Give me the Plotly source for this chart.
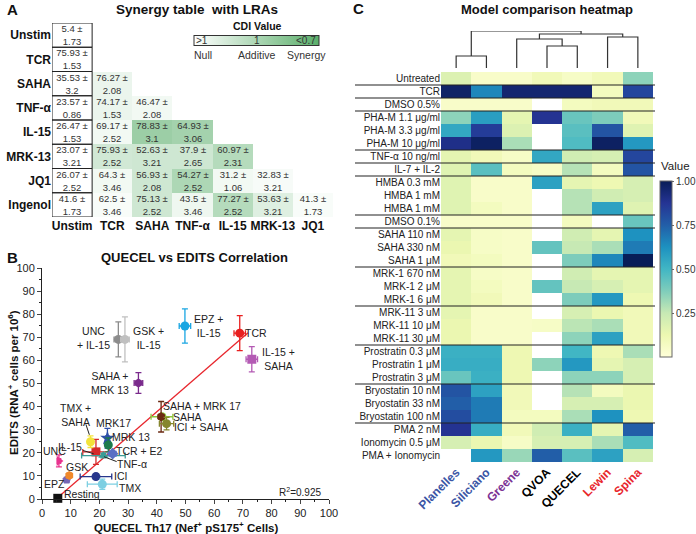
import plotly.graph_objects as go

W, H = 696, 534
def px(x): return x / W
def py(y): return 1 - y / H

FONT = "Arial, Liberation Sans, sans-serif"

# ---------------- Panel A data ----------------
lra_rows = ["Unstim", "TCR", "SAHA", "TNF-α", "IL-15", "MRK-13", "JQ1", "Ingenol"]
lra_cols = ["Unstim", "TCR", "SAHA", "TNF-α", "IL-15", "MRK-13", "JQ1"]
mean_pct = [
    [5.4],
    [75.93],
    [35.53, 76.27],
    [23.57, 74.17, 46.47],
    [26.47, 69.17, 78.83, 64.93],
    [23.07, 75.93, 52.63, 37.9, 60.97],
    [26.07, 64.3, 56.93, 54.27, 31.2, 32.83],
    [41.6, 62.5, 75.13, 43.5, 77.27, 53.63, 41.3],
]
sd_pct = [
    [1.73],
    [1.53],
    [3.2, 2.08],
    [0.86, 1.53, 2.08],
    [1.53, 2.52, 3.1, 3.06],
    [3.21, 2.52, 3.21, 2.65, 2.31],
    [2.52, 3.46, 2.08, 2.52, 1.06, 3.21],
    [1.73, 3.46, 2.52, 3.46, 2.52, 3.21, 1.73],
]
synergy_shade = [
    [0],
    [0],
    [0, 0.12],
    [0, 0.12, 0.08],
    [0, 0.08, 0.6, 0.55],
    [0, 0.28, 0.3, 0.3, 0.45],
    [0, 0.08, 0.3, 0.5, 0.08, 0.05],
    [0, 0.04, 0.3, 0.1, 0.45, 0.2, 0.04],
]

# ---------------- Panel B data ----------------
lra_names = ["Resting", "EPZ", "GSK", "UNC", "IL-15", "TMX + SAHA", "MRK17", "MRK 13",
             "TNF-α", "TCR + E2", "ICI", "TMX", "SAHA", "SAHA + MRK 17", "ICI + SAHA",
             "SAHA + MRK 13", "UNC + IL-15", "GSK + IL-15", "EPZ + IL-15", "TCR", "IL-15 + SAHA"]
quecel_x = [5.5, 8.6, 9.5, 5.9, 18.8, 16.9, 22.8, 23.1, 21.4, 24.6, 18.8, 21.0, 41.8, 41.5, 43.4,
            33.6, 26.6, 28.9, 49.8, 68.9, 73.1]
edits_y = [0.3, 8.3, 10.2, 16.5, 20.4, 24.8, 26.3, 23.4, 18.8, 19.6, 9.7, 6.4, 35.6, 35.6, 32.6,
           50.2, 69.1, 69.1, 74.9, 71.8, 60.5]
quecel_err = [0.6, 0.6, 0.6, 0.6, 4.6, 0.8, 0.6, 0.6, 7.6, 1.2, 5.5, 5.2, 3.8, 0.8, 2.5,
              1.5, 1.5, 1.5, 2.0, 2.0, 2.0]
edits_err = [0.4, 1.0, 1.0, 2.6, 5.4, 2.5, 4.3, 3.0, 1.0, 1.0, 1.2, 2.2, 0.5, 6.6, 2.7,
             4.5, 7.6, 9.7, 7.4, 7.6, 5.5]
fit_x = [4.9, 71.8]
fit_y = [0.0, 72.0]
r_squared = 0.925

# ---------------- Panel C data ----------------
model_names = ["Planelles", "Siliciano", "Greene", "QVOA", "QUECEL", "Lewin", "Spina"]
condition_names = ["Untreated", "TCR", "DMSO 0.5%", "PHA-M 1.1 μg/ml", "PHA-M 3.3 μg/ml",
                   "PHA-M 10 μg/ml", "TNF-α 10 ng/ml", "IL-7 + IL-2", "HMBA 0.3 mM", "HMBA 1 mM",
                   "HMBA 1 mM", "DMSO 0.1%", "SAHA 110 nM", "SAHA 330 nM", "SAHA 1 μM",
                   "MRK-1 670 nM", "MRK-1 2 μM", "MRK-1 6 μM", "MRK-11 3 uM", "MRK-11 10 μM",
                   "MRK-11 30 μM", "Prostratin 0.3 μM", "Prostratin 1 μM", "Prostratin 3 μM",
                   "Bryostatin 10 nM", "Bryostatin 33 nM", "Bryostatin 100 nM", "PMA 2 nM",
                   "Ionomycin 0.5 μM", "PMA + Ionomycin"]
N = None
model_values = [
    [0.18, 0.05, 0.05, 0.10, 0.06, 0.10, 0.35],
    [0.97, 0.65, 0.95, 0.95, 0.95, 0.08, 0.82],
    [0.05, 0.05, 0.05, N, 0.08, 0.10, 0.10],
    [0.35, 0.58, 0.15, 0.88, 0.42, 0.38, 0.10],
    [0.55, 0.85, 0.18, N, 0.45, 0.78, 0.17],
    [0.90, 0.98, 0.30, N, 0.47, 0.98, 0.60],
    [0.15, 0.10, 0.06, 0.55, 0.22, 0.20, 0.82],
    [0.17, 0.45, 0.08, 0.06, 0.28, 0.08, 0.78],
    [0.17, 0.05, 0.05, 0.57, 0.15, 0.12, 0.20],
    [0.17, 0.05, 0.05, N, 0.28, 0.22, 0.20],
    [0.17, 0.08, 0.05, N, 0.28, 0.57, 0.17],
    [0.05, 0.05, 0.05, N, 0.08, N, 0.42],
    [0.15, 0.06, 0.05, N, 0.22, 0.15, 0.62],
    [0.13, 0.06, 0.05, 0.43, 0.25, 0.30, 0.68],
    [0.10, 0.08, 0.05, N, 0.38, 0.65, 1.00],
    [0.15, 0.06, 0.05, N, 0.22, 0.15, 0.15],
    [0.15, 0.08, 0.05, 0.43, 0.25, 0.20, 0.15],
    [0.15, 0.10, 0.05, N, 0.38, 0.60, 0.12],
    [0.15, 0.05, 0.05, N, 0.20, 0.13, 0.10],
    [0.13, 0.05, 0.05, 0.06, 0.27, 0.30, 0.10],
    [0.13, 0.05, 0.05, N, 0.35, 0.57, 0.10],
    [0.52, 0.52, 0.12, N, 0.50, 0.12, 0.30],
    [0.53, 0.53, 0.12, 0.35, 0.60, 0.15, 0.20],
    [0.42, 0.52, 0.12, N, 0.35, 0.35, 0.20],
    [0.78, 0.57, 0.10, N, 0.28, 0.08, 0.13],
    [0.75, 0.68, 0.10, N, 0.20, 0.20, 0.13],
    [0.80, 0.68, 0.08, 0.08, 0.30, 0.62, 0.12],
    [0.88, 0.53, 0.10, 0.22, 0.52, 0.15, 0.75],
    [0.20, 0.13, 0.06, 0.20, 0.20, 0.30, 0.47],
    [N, 0.60, 0.33, 0.75, 0.45, 0.57, 0.20],
]
group_ends = [0, 1, 2, 5, 6, 7, 10, 11, 14, 17, 20, 23, 26]
# linkage: [left id, right id, height]; leaves 0..6, new clusters 7..
dendro_links = [[0, 1, 12], [3, 4, 22], [5, 6, 31], [2, 8, 29], [10, 9, 34], [7, 11, 37]]

# ---------------- styles ----------------
pt_colors = ["#111111", "#7667b5", "#f0892b", "#e8338f", "#d42a2a", "#f3e33b", "#2d4fa8", "#1e7a4c",
             "#3a9c96", "#5b6fc4", "#27368c", "#7dcfe2", "#8dc63f", "#6b2a12", "#86862e",
             "#7a2a8c", "#8c8c8c", "#c0c0c0", "#1aa6e2", "#e82020", "#b45ab4"]
pt_symbols = ["square", "pentagon", "hexagon", "triangle-right", "square", "circle", "star", "circle",
              "triangle-up", "diamond", "circle", "circle", "circle", "hexagon", "circle",
              "hexagon", "circle", "circle", "circle", "circle", "square"]
label_pos = [(13.8, 2.2), (4.2, 6.4), (12.2, 13.9), (4.5, 20.8), (9.8, 22.6), (11.8, 36.4),
             (24.8, 33.0), (31.0, 26.8), (31.5, 15.2), (34.1, 20.8), (27.4, 10.0), (30.7, 4.8),
             (50.6, 35.5), (55.9, 40.3), (55.4, 31.1), (23.7, 50.2), (17.8, 69.7), (37.0, 69.7),
             (57.9, 74.9), (74.5, 71.9), (82.3, 60.6)]
label_text = ["Resting", "EPZ", "GSK", "UNC", "IL-15", "TMX +<br>SAHA", "MRK17", "MRK 13",
              "TNF-α", "TCR + E2", "ICI", "TMX", "SAHA", "SAHA + MRK 17", "ICI + SAHA",
              "SAHA +<br>MRK 13", "UNC<br>+ IL-15", "GSK +<br>IL-15", "EPZ +<br>IL-15", "TCR",
              "IL-15 +<br>SAHA"]
leaders = [((15.3, 32.3), (16.5, 27.8)), ((14.3, 21.0), (18.0, 19.6)), ((26.0, 16.2), (21.6, 18.3))]
model_colors = ["#3b55a5", "#3b55a5", "#7b3294", "#000000", "#000000", "#e8262d", "#e8262d"]
ylgnbu = [[0.0, "#ffffd9"], [0.125, "#edf8b1"], [0.25, "#c7e9b4"], [0.375, "#7fcdbb"],
          [0.5, "#41b6c4"], [0.625, "#1d91c0"], [0.75, "#225ea8"], [0.875, "#253494"], [1.0, "#081d58"]]

fig = go.Figure()
shapes = []
annotations = []

def note(text, x, y, size, color="#111", xanchor="center", angle=0):
    return dict(text=text, x=px(x), y=py(y), xref="paper", yref="paper", showarrow=False,
                xanchor=xanchor, yanchor="middle", textangle=angle,
                font=dict(size=size, color=color))

# ---------------- Panel A ----------------
nr, nc = len(lra_rows), len(lra_cols)
zA = [[None] * nc for _ in range(nr)]
tA = [[""] * nc for _ in range(nr)]
for i in range(nr):
    for j, (m, s, g) in enumerate(zip(mean_pct[i], sd_pct[i], synergy_shade[i])):
        zA[i][j] = g
        tA[i][j] = f"{m:g} ±<br>{s:g}"
fig.add_trace(go.Heatmap(
    z=zA, x=list(range(nc)), y=list(range(nr)), text=tA, texttemplate="%{text}",
    textfont=dict(size=9.5, color="#333", family=FONT),
    colorscale=[[0, "#ffffff"], [1, "#5aae6a"]], zmin=0, zmax=1,
    xaxis="x", yaxis="y", hoverinfo="skip",
    colorbar=dict(orientation="h", x=px(256.5), xanchor="center", y=py(41), yanchor="middle",
                  len=125 / W, lenmode="fraction", thickness=10, thicknessmode="pixels",
                  xpad=0, ypad=0, outlinewidth=1, outlinecolor="#333",
                  showticklabels=False, ticks=""),
))
for i in range(nr):
    shapes.append(dict(type="rect", xref="x", yref="y", x0=-0.5, x1=0.5, y0=i - 0.5, y1=i + 0.5,
                       line=dict(color="#222", width=1)))

annotations += [
    note("<b>A</b>", 5, 9, 15, xanchor="left"),
    note("<b>Synergy table  with LRAs</b>", 197, 9, 13.5),
    note("<b>CDI Value</b>", 257, 26, 10.5),
    note(">1", 202, 41, 10, "#333"),
    note("1", 257, 41, 10, "#333"),
    note("<0.7", 306, 41, 10, "#333"),
    note("Null", 203, 55, 10.5, "#333"),
    note("Additive", 257, 55, 10.5, "#333"),
    note("Synergy", 306, 55, 10.5, "#333"),
]

# ---------------- Panel B ----------------
fig.add_trace(go.Scatter(x=fit_x, y=fit_y, mode="lines", line=dict(color="#e8262d", width=1.3),
                         xaxis="x2", yaxis="y2", hoverinfo="skip"))
for k in range(len(lra_names)):
    c = pt_colors[k]
    fig.add_trace(go.Scatter(
        x=[quecel_x[k]], y=[edits_y[k]], mode="markers", name=lra_names[k],
        marker=dict(color=c, size=9 if pt_symbols[k] != "star" else 11, symbol=pt_symbols[k],
                    line=dict(width=0)),
        error_x=dict(type="data", array=[quecel_err[k]], color=c, thickness=1.3, width=3),
        error_y=dict(type="data", array=[edits_err[k]], color=c, thickness=1.3, width=3),
        xaxis="x2", yaxis="y2", cliponaxis=False))
for (lx, ly), t in zip(label_pos, label_text):
    annotations.append(dict(text=t, x=lx, y=ly, xref="x2", yref="y2", showarrow=False,
                            xanchor="center", yanchor="middle",
                            font=dict(size=10.5, color="#222")))
for (a, b) in leaders:
    shapes.append(dict(type="line", xref="x2", yref="y2", x0=a[0], y0=a[1], x1=b[0], y1=b[1],
                       line=dict(color="#222", width=1)))
annotations += [
    dict(text=f"R<sup>2</sup>={r_squared}", x=90, y=3, xref="x2", yref="y2", showarrow=False,
         xanchor="center", yanchor="middle", font=dict(size=10, color="#222")),
    note("<b>B</b>", 5, 257, 15, xanchor="left"),
    note("<b>QUECEL vs EDITS Correlation</b>", 195, 257, 13),
    note("<b>QUECEL Th17 (Nef<sup>+</sup> pS175<sup>+</sup> Cells)</b>", 186, 527, 11.5),
    note("<b>EDITS (RNA<sup>+</sup> cells per 10<sup>6</sup>)</b>", 13, 383, 11.5, angle=-90),
]

# ---------------- Panel C ----------------
nrow = len(condition_names)
fig.add_trace(go.Heatmap(
    z=model_values, x=list(range(len(model_names))), y=list(range(nrow)),
    colorscale=ylgnbu, zmin=0, zmax=1, xaxis="x3", yaxis="y3", hoverinfo="skip",
    colorbar=dict(x=px(660), xanchor="left", y=py(269), yanchor="middle", len=176 / H,
                  lenmode="fraction", thickness=12, thicknessmode="pixels", xpad=0, ypad=0,
                  outlinewidth=1, outlinecolor="#666",
                  tickvals=[0.25, 0.5, 0.75, 1.0], ticktext=["0.25", "0.50", "0.75", "1.00"],
                  ticks="outside", ticklen=2, tickcolor="#666",
                  tickfont=dict(size=10, color="#333")),
))
for g in group_ends:
    shapes.append(dict(type="line", xref="paper", yref="y3", x0=px(355), x1=px(655),
                       y0=g + 0.5, y1=g + 0.5, line=dict(color="#222", width=1.2)))

# dendrogram
pos = {i: float(i) for i in range(len(model_names))}
hgt = {i: 0.0 for i in range(len(model_names))}
dx, dy = [], []
for n, (l, r, h) in enumerate(dendro_links):
    cid = len(model_names) + n
    dx += [pos[l], pos[l], pos[r], pos[r], None]
    dy += [hgt[l], h, h, hgt[r], None]
    pos[cid] = (pos[l] + pos[r]) / 2
    hgt[cid] = h
fig.add_trace(go.Scatter(x=dx, y=dy, mode="lines", line=dict(color="#333", width=1.2),
                         xaxis="x4", yaxis="y4", hoverinfo="skip"))

annotations += [
    note("<b>C</b>", 351, 8, 15, xanchor="left"),
    note("<b>Model comparison heatmap</b>", 547, 9, 13),
    note("Value", 659, 166, 11.5, "#222", xanchor="left"),
]

model_ticktext = [f"<span style='color:{c}'><b>{m}</b></span>" for m, c in zip(model_names, model_colors)]

fig.update_layout(
    width=W, height=H, margin=dict(l=0, r=0, t=0, b=0, autoexpand=False),
    paper_bgcolor="white", plot_bgcolor="white", showlegend=False,
    font=dict(family=FONT, color="#111"),
    shapes=shapes, annotations=annotations,
    xaxis=dict(domain=[px(52), px(333)], range=[-0.5, 6.5], tickvals=list(range(nc)),
               ticktext=[f"<b>{c}</b>" for c in lra_cols], ticks="", showgrid=False, zeroline=False,
               showline=False, tickangle=0, tickfont=dict(size=12, color="#111"), anchor="y",
               automargin=False),
    yaxis=dict(domain=[py(217), py(23)], range=[nr - 0.5, -0.5], tickvals=list(range(nr)),
               ticktext=[f"<b>{r}</b>" for r in lra_rows], ticks="", showgrid=False, zeroline=False,
               showline=False, tickfont=dict(size=12, color="#111"), anchor="x", automargin=False),
    xaxis2=dict(domain=[px(42), px(329)], range=[0, 100], dtick=10, ticks="outside", ticklen=4,
                showline=True, linecolor="#222", linewidth=1, showgrid=False, zeroline=False,
                minor=dict(dtick=5, ticks="outside", ticklen=2, tickcolor="#222"), tickangle=0,
                tickfont=dict(size=11, color="#222"), anchor="y2", automargin=False),
    yaxis2=dict(domain=[py(499), py(268)], range=[0, 100], dtick=10, ticks="outside", ticklen=4,
                showline=True, linecolor="#222", linewidth=1, showgrid=False, zeroline=False,
                minor=dict(dtick=5, ticks="outside", ticklen=2, tickcolor="#222"),
                tickfont=dict(size=11, color="#222"), anchor="x2", automargin=False),
    xaxis3=dict(domain=[px(441), px(653)], range=[-0.5, 6.5], tickvals=list(range(len(model_names))),
                ticktext=model_ticktext, tickangle=-45, ticks="", showgrid=False, zeroline=False,
                showline=False, tickfont=dict(size=12), anchor="y3", automargin=False),
    yaxis3=dict(domain=[py(462), py(72)], range=[nrow - 0.5, -0.5], tickvals=list(range(nrow)),
                ticktext=condition_names, ticks="", showgrid=False, zeroline=False, showline=False,
                tickfont=dict(size=10, color="#222"), anchor="x3", automargin=False),
    xaxis4=dict(domain=[px(441), px(653)], range=[-0.5, 6.5], visible=False, anchor="y4"),
    yaxis4=dict(domain=[py(68), py(31)], range=[0, 37], visible=False, anchor="x4"),
)

fig.write_html("out.html", config={"displayModeBar": False},
               post_script="document.body.style.margin='0';document.body.style.overflow='hidden';")
